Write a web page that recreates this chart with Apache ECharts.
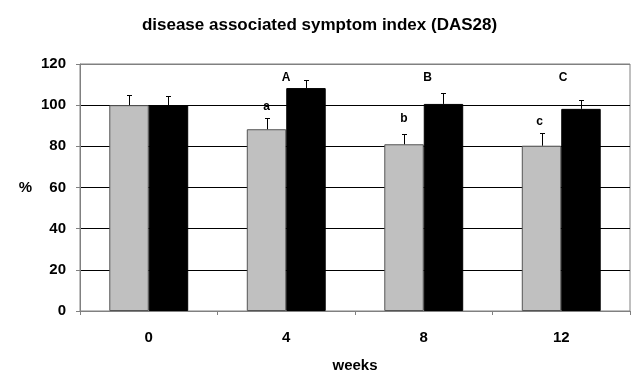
<!DOCTYPE html>
<html><head><meta charset="utf-8">
<script src="https://cdn.jsdelivr.net/npm/echarts@6/dist/echarts.min.js"></script>
<style>html,body{margin:0;padding:0;background:#fff}#c{width:639px;height:373px}</style>
</head><body><div id="c"></div>
<script>
const weeks = ['0', '4', '8', '12'];
const grayValues = [100, 88.3, 81.0, 80.3];
const grayErrors = [4.8, 5.3, 4.9, 6.0];
const blackValues = [100, 108.3, 100.6, 98.2];
const blackErrors = [4.3, 3.8, 5.3, 4.2];
const grayMarks = ['', 'a', 'b', 'c'];
const blackMarks = ['', 'A', 'B', 'C'];
const yTicks = [0, 20, 40, 60, 80, 100, 120];

const FONT = 'Liberation Sans, Arial, sans-serif';
const BAR_W = 0.287;
const grayLabelDist = [0, 17, 20, 18];
const grayLabelDx = [0, 0, 0, -2];
const blackLabelDist = [0, 4, 20, 25];
const blackLabelDx = [0, -20, -16, -18];

function labelled(vals, marks, dist, dx) {
  return vals.map((v, i) => marks[i] ? {
    value: v,
    label: { show: true, position: 'top', formatter: marks[i], distance: dist[i],
      offset: [dx[i], 0], fontFamily: FONT, fontWeight: 'bold', fontSize: 12, color: '#000' }
  } : v);
}

function errSeries(vals, errs, side) {
  return {
    type: 'custom', z: 5,
    data: vals.map((v, i) => [i, v, v + errs[i]]),
    renderItem: function (params, api) {
      const i = api.value(0);
      const base = api.coord([i, api.value(1)]);
      const top = api.coord([i, api.value(2)]);
      const w = api.size([1, 0])[0] * BAR_W;
      const x = Math.round(base[0] + side * w / 2) + 0.5;
      const ty = Math.round(top[1]) + 0.5;
      const style = { stroke: '#000', lineWidth: 1 };
      return { type: 'group', children: [
        { type: 'line', shape: { x1: x, y1: base[1], x2: x, y2: ty }, style },
        { type: 'line', shape: { x1: x - 2.5, y1: ty, x2: x + 2.5, y2: ty }, style }
      ]};
    }
  };
}

const chart = echarts.init(document.getElementById('c'));
chart.setOption({
  animation: false,
  title: { text: 'disease associated symptom index (DAS28)', left: 'center', top: 12,
    textStyle: { fontFamily: FONT, fontWeight: 'bold', fontSize: 17, color: '#000' } },
  grid: { left: 80, right: 9, top: 64, bottom: 62, containLabel: false, outerBoundsMode: 'none',
    show: true, borderColor: '#808080', borderWidth: 1 },
  xAxis: {
    type: 'category', data: weeks, name: 'weeks', nameLocation: 'middle', nameGap: 47,
    nameTextStyle: { fontFamily: FONT, fontWeight: 'bold', fontSize: 15, color: '#000' },
    axisLine: { lineStyle: { color: '#808080' } },
    axisTick: { show: true, length: 4, lineStyle: { color: '#808080' } },
    axisLabel: { margin: 19, fontFamily: FONT, fontWeight: 'bold', fontSize: 15, color: '#000' }
  },
  yAxis: {
    type: 'value', min: yTicks[0], max: yTicks[yTicks.length - 1], interval: 20,
    name: '%', nameLocation: 'middle', nameRotate: 0, nameGap: 48,
    nameTextStyle: { fontFamily: FONT, fontWeight: 'bold', fontSize: 15, color: '#000' },
    axisLine: { show: true, lineStyle: { color: '#808080' } },
    axisTick: { show: true, length: 4, inside: false, lineStyle: { color: '#808080' } },
    axisLabel: { margin: 14, fontFamily: FONT, fontWeight: 'bold', fontSize: 15, color: '#000' },
    splitLine: { show: true, lineStyle: { color: ['#808080', '#000', '#000', '#000', '#000', '#000', '#808080'], width: 1 } }
  },
  series: [
    { type: 'bar', barWidth: (BAR_W * 100) + '%', barGap: '0%',
      data: labelled(grayValues, grayMarks, grayLabelDist, grayLabelDx),
      itemStyle: { color: '#c0c0c0', borderColor: '#555', borderWidth: 1 } },
    { type: 'bar', barWidth: (BAR_W * 100) + '%', barGap: '0%',
      data: labelled(blackValues, blackMarks, blackLabelDist, blackLabelDx),
      itemStyle: { color: '#000', borderColor: '#000', borderWidth: 1 } },
    errSeries(grayValues, grayErrors, -1),
    errSeries(blackValues, blackErrors, 1)
  ]
});
</script></body></html>
